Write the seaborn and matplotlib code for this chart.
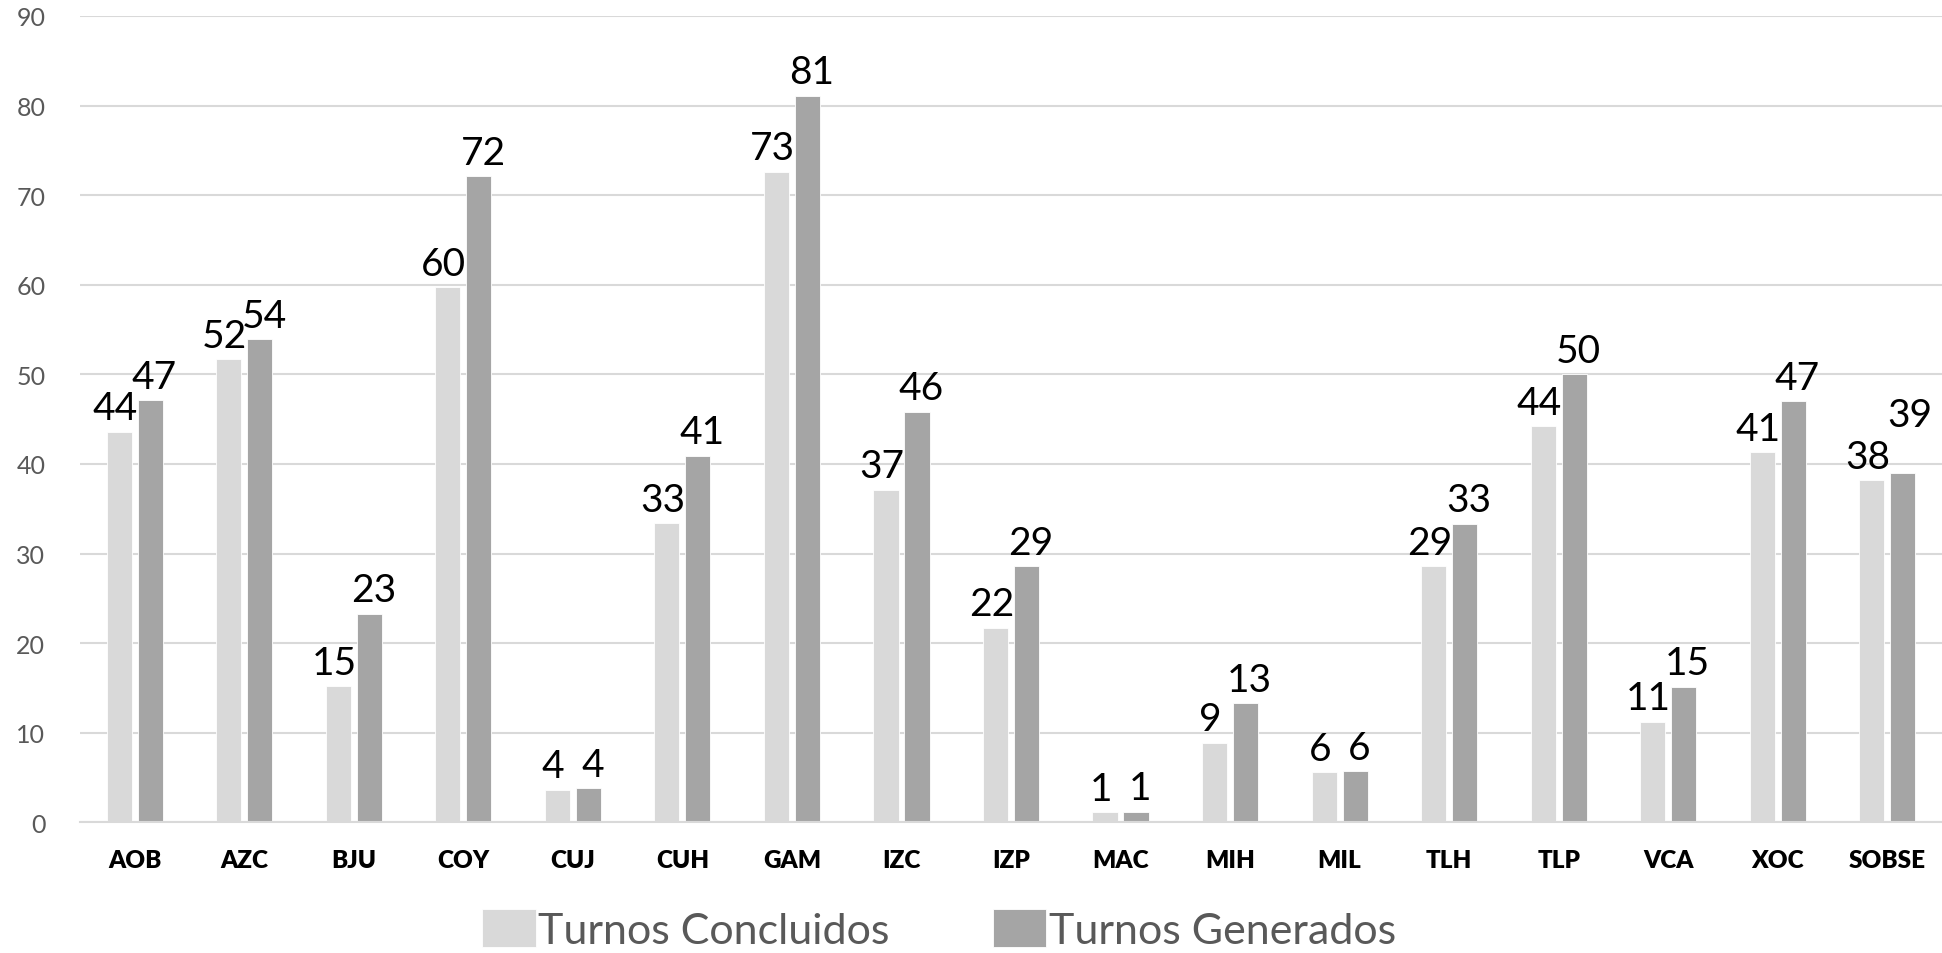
import matplotlib
matplotlib.use("Agg")
import matplotlib.pyplot as plt
import pandas as pd
import seaborn as sns

# ── Data ─────────────────────────────────────────────────────────────────────
categorias = ["AOB", "AZC", "BJU", "COY", "CUJ", "CUH", "GAM", "IZC", "IZP",
              "MAC", "MIH", "MIL", "TLH", "TLP", "VCA", "XOC", "SOBSE"]
concluidos = [43.6, 51.7, 15.2, 59.7, 3.6, 33.4, 72.6, 37.1, 21.7,
              1.1, 8.9, 5.6, 28.6, 44.2, 11.2, 41.3, 38.2]
generados  = [47.1, 53.9, 23.3, 72.1, 3.8, 40.9, 81.1, 45.8, 28.6,
              1.2, 13.3, 5.7, 33.3, 50.0, 15.1, 47.0, 39.0]
series     = ["Turnos Concluidos", "Turnos Generados"]
y_ticks    = [0, 10, 20, 30, 40, 50, 60, 70, 80, 90]

LIGHT = "#D9D9D9"
DARK  = "#A5A5A5"
GRID  = "#D9D9D9"
TEXT_GRAY = "#595959"
DPI = 100

df = pd.DataFrame({
    "cat":   categorias * 2,
    "valor": concluidos + generados,
    "serie": [series[0]] * len(categorias) + [series[1]] * len(categorias),
})

sns.set_theme(style="white")
plt.rcParams["font.family"] = ["Lato", "DejaVu Sans"]

fig = plt.figure(figsize=(19.42, 9.54), dpi=DPI)
ax = fig.add_axes([80 / 1942, 130.7 / 954, 1 - 80 / 1942, (937 - 130.7) / 954])

sns.barplot(data=df, x="cat", y="valor", hue="serie",
            palette=[LIGHT, DARK], saturation=1,
            width=0.566, gap=0.19, edgecolor="white", linewidth=0.6,
            ax=ax)

# data labels, nudged apart like the spreadsheet does
labels = []
for cont, dx in zip(ax.containers, [-3, 3]):
    row = []
    for bar in cont:
        h = bar.get_height()
        row.append(ax.annotate(f"{h:.0f}", (bar.get_x() + bar.get_width() / 2, h),
                               xytext=(dx, 4), textcoords="offset points",
                               ha="center", va="bottom", fontsize=28, color="black"))
    labels.append(row)

ax.set_ylim(0, 90)
ax.set_yticks(y_ticks)
ax.set_xlim(-0.5, len(categorias) - 0.5)
ax.yaxis.grid(True, color=GRID, lw=1.5)
ax.set_axisbelow(True)
for s in ["top", "right", "left"]:
    ax.spines[s].set_visible(False)
ax.spines["bottom"].set_color(GRID)
ax.spines["bottom"].set_linewidth(1.5)

ax.set_xlabel("")
ax.set_ylabel("")
ax.tick_params(axis="y", length=0, pad=25, labelsize=18, labelcolor=TEXT_GRAY)
ax.tick_params(axis="x", length=0, pad=19, labelsize=17.5)
for lbl in ax.get_xticklabels():
    lbl.set_fontweight("heavy")
    lbl.set_color("black")

ax.legend(loc="lower center", bbox_to_anchor=(0.4834, -0.037),
          bbox_transform=fig.transFigure, ncol=2, frameon=False,
          fontsize=31, labelcolor=TEXT_GRAY, handlelength=1.25,
          handleheight=1.0, handletextpad=0.05, columnspacing=2.4)

# push a label up when it sits almost level with its neighbour and touches it
fig.canvas.draw()
renderer = fig.canvas.get_renderer()
for a, b in zip(*labels):
    ea = a.get_window_extent(renderer)
    eb = b.get_window_extent(renderer)
    x_over = min(ea.x1, eb.x1) - max(ea.x0, eb.x0)
    y_over = min(ea.y1, eb.y1) - max(ea.y0, eb.y0)
    if x_over > 0 and y_over > 0.6 * ea.height:
        low, high = (a, b) if ea.y0 <= eb.y0 else (b, a)
        e_low = low.get_window_extent(renderer)
        e_high = high.get_window_extent(renderer)
        shift = (e_low.y1 - e_high.y0 + 6) * 72 / DPI
        ox, oy = high.xyann
        high.xyann = (ox + 2, oy + shift)

fig.savefig("out.png", dpi=DPI)
plt.close(fig)
